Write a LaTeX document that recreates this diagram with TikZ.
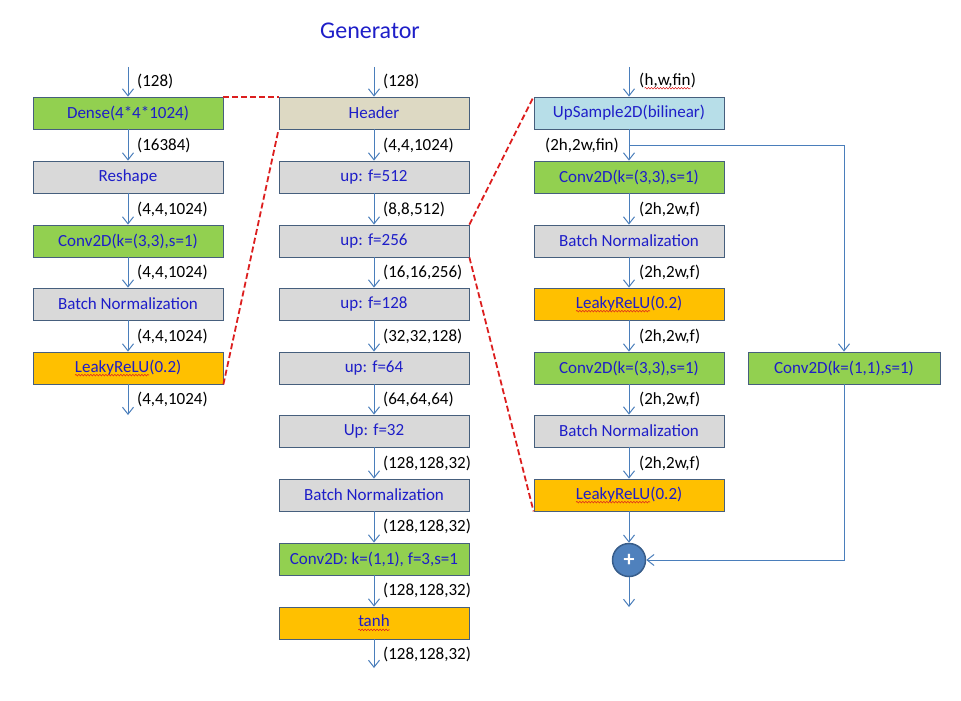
\documentclass[tikz,border=0pt]{standalone}
\usepackage{fontspec}
\setmainfont{Carlito}
\usetikzlibrary{arrows.meta,decorations.pathmorphing}
\definecolor{txt}{RGB}{30,30,200}
\definecolor{bord}{RGB}{70,95,125}
\definecolor{cgreen}{RGB}{146,208,80}
\definecolor{cgray}{RGB}{217,217,217}
\definecolor{corange}{RGB}{255,192,0}
\definecolor{ctan}{RGB}{221,217,195}
\definecolor{cblue}{RGB}{183,222,232}
\definecolor{carrow}{RGB}{74,126,187}
\definecolor{cred}{RGB}{220,30,30}
\definecolor{circB}{RGB}{79,129,189}
\definecolor{circBd}{RGB}{56,93,138}
\newcommand{\bfnt}{\fontsize{17}{20}\selectfont}
\newcommand{\sq}[1]{\tikz[baseline=(sqw.base)]{\node[shape=rectangle,minimum width=0pt,minimum height=0pt,inner sep=0pt,outer sep=0pt,draw=none,fill=none,anchor=base] (sqw) {#1};\draw[cred,line width=0.5pt,decorate,decoration={snake,segment length=3pt,amplitude=0.8pt}] ([yshift=-3pt]sqw.base west) -- ([yshift=-3pt]sqw.base east);}}
\begin{document}
\begin{tikzpicture}[x=1pt,y=-1pt,
  blk/.style={draw=bord,line width=0.8pt,minimum width=190pt,minimum height=32pt,inner sep=0pt,text=txt,font=\bfnt},
  lbl/.style={font=\bfnt,anchor=west,inner sep=0pt,text=black},
  lblr/.style={font=\bfnt,anchor=east,inner sep=0pt,text=black},
  arr/.style={draw=carrow,line width=1pt,-{Straight Barb[length=7pt,width=11pt]}},
  reddash/.style={draw=cred,line width=1.8pt,dash pattern=on 6pt off 3pt}]
\useasboundingbox (0,0) rectangle (961,701);

\node[font=\fontsize{24}{28}\selectfont,text=txt,inner sep=0pt] (title) at (370,31) {Generator};

% ---- left column
\node[blk,fill=cgreen] (dense) at (128,113) {Dense(4*4*1024)};
\node[blk,fill=cgray] (resh) at (128,177) {Reshape};
\node[blk,fill=cgreen] (convL) at (128,241) {Conv2D(k=(3,3),s=1)};
\node[blk,fill=cgray] (bnL) at (128,304) {Batch Normalization};
\node[blk,fill=corange] (lrL) at (128,368) {\sq{LeakyReLU}(0.2)};
\coordinate (Lin) at (128,67);
\coordinate (Lout) at (128,415);
\draw[arr] (Lin) -- (dense);
\draw[arr] (dense) -- (resh);
\draw[arr] (resh) -- (convL);
\draw[arr] (convL) -- (bnL);
\draw[arr] (bnL) -- (lrL);
\draw[arr] (lrL) -- (Lout);
\node[lbl] (lL1) at (137,81) {(128)};
\node[lbl] (lL2) at (137,145) {(16384)};
\node[lbl] (lL3) at (137,209) {(4,4,1024)};
\node[lbl] (lL4) at (137,272) {(4,4,1024)};
\node[lbl] (lL5) at (137,336) {(4,4,1024)};
\node[lbl] (lL6) at (137,399) {(4,4,1024)};

% ---- middle column
\node[blk,fill=ctan] (head) at (374,113) {Header};
\node[blk,fill=cgray] (u512) at (374,177) {up: f=512};
\node[blk,fill=cgray] (u256) at (374,241) {up: f=256};
\node[blk,fill=cgray] (u128) at (374,304) {up: f=128};
\node[blk,fill=cgray] (u64) at (374,368) {up: f=64};
\node[blk,fill=cgray] (u32) at (374,431) {Up: f=32};
\node[blk,fill=cgray] (bnM) at (374,495) {Batch Normalization};
\node[blk,fill=cgreen] (convM) at (374,559) {Conv2D: k=(1,1), f=3,s=1};
\node[blk,fill=corange] (tanh) at (374,623) {\sq{tanh}};
\coordinate (Min) at (374,67);
\coordinate (Mout) at (374,668);
\draw[arr] (Min) -- (head);
\draw[arr] (head) -- (u512);
\draw[arr] (u512) -- (u256);
\draw[arr] (u256) -- (u128);
\draw[arr] (u128) -- (u64);
\draw[arr] (u64) -- (u32);
\draw[arr] (u32) -- (bnM);
\draw[arr] (bnM) -- (convM);
\draw[arr] (convM) -- (tanh);
\draw[arr] (tanh) -- (Mout);
\node[lbl] (lM1) at (383,81) {(128)};
\node[lbl] (lM2) at (383,145) {(4,4,1024)};
\node[lbl] (lM3) at (383,209) {(8,8,512)};
\node[lbl] (lM4) at (383,272) {(16,16,256)};
\node[lbl] (lM5) at (383,336) {(32,32,128)};
\node[lbl] (lM6) at (383,399) {(64,64,64)};
\node[lbl] (lM7) at (383,463) {(128,128,32)};
\node[lbl] (lM8) at (383,526) {(128,128,32)};
\node[lbl] (lM9) at (383,590) {(128,128,32)};
\node[lbl] (lM10) at (383,654) {(128,128,32)};

% ---- right column
\node[blk,fill=cblue] (ups) at (629,113) {UpSample2D(bilinear)};
\node[blk,fill=cgreen] (c1) at (629,177) {Conv2D(k=(3,3),s=1)};
\node[blk,fill=cgray] (bn1) at (629,241) {Batch Normalization};
\node[blk,fill=corange] (lr1) at (629,304) {\sq{LeakyReLU}(0.2)};
\node[blk,fill=cgreen] (c2) at (629,368) {Conv2D(k=(3,3),s=1)};
\node[blk,fill=cgray] (bn2) at (629,431) {Batch Normalization};
\node[blk,fill=corange] (lr2) at (629,495) {\sq{LeakyReLU}(0.2)};
\node[blk,fill=cgreen,minimum width=192pt] (c11) at (844,368) {Conv2D(k=(1,1),s=1)};
\node[circle,fill=circB,draw=circBd,line width=1.5pt,minimum size=33pt,inner sep=0pt,text=white,font=\fontsize{22}{22}\selectfont\bfseries] (plus) at (629,560) {+};
\coordinate (Rin) at (629,67);
\coordinate (Rout) at (629,607);
\coordinate (sk) at (629,145);
\draw[arr] (Rin) -- (ups);
\draw[arr] (ups) -- (c1);
\draw[arr] (c1) -- (bn1);
\draw[arr] (bn1) -- (lr1);
\draw[arr] (lr1) -- (c2);
\draw[arr] (c2) -- (bn2);
\draw[arr] (bn2) -- (lr2);
\draw[arr] (lr2) -- (plus);
\draw[arr] (plus) -- (Rout);
\draw[arr] (sk) -| (c11.north);
\draw[arr] (c11.south) |- (plus.east);
\node[lbl] (lR1) at (639,81) {(\sq{h,w,fin})};
\node[lblr] (lR2) at (619,145) {(2h,2w,fin)};
\node[lbl] (lR3) at (639,209) {(2h,2w,f)};
\node[lbl] (lR4) at (639,272) {(2h,2w,f)};
\node[lbl] (lR5) at (639,336) {(2h,2w,f)};
\node[lbl] (lR6) at (639,399) {(2h,2w,f)};
\node[lbl] (lR7) at (639,463) {(2h,2w,f)};

% ---- red dashed zoom lines
\draw[reddash] (dense.north east) -- (head.north west);
\draw[reddash] (lrL.south east) -- (head.south west);
\draw[reddash] (u256.north east) -- (ups.north west);
\draw[reddash] (u256.south east) -- (lr2.south west);
\end{tikzpicture}
\end{document}
